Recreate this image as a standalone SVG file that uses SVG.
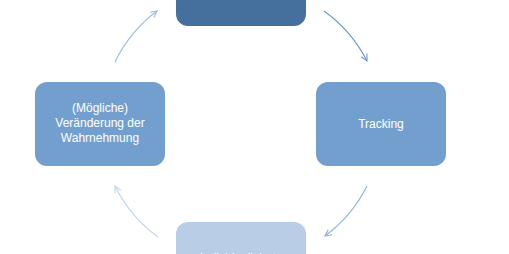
<svg xmlns="http://www.w3.org/2000/svg" width="509" height="254" viewBox="0 0 509 254">
<defs>
<style>
.box{stroke:none}
.t{font-family:"Liberation Sans","Open Sans",sans-serif;font-size:12px;fill:#ffffff;text-anchor:middle}
.c{fill:none;stroke-width:1.2}
</style>
<marker id="a1" viewBox="0 0 10 10" refX="9" refY="5" markerWidth="8" markerHeight="8" markerUnits="userSpaceOnUse" orient="auto"><path d="M1,1 L9,5 L1,9" fill="none" stroke="#9dbde6" stroke-width="1.4"/></marker>
<marker id="a2" viewBox="0 0 10 10" refX="9" refY="5" markerWidth="8" markerHeight="8" markerUnits="userSpaceOnUse" orient="auto"><path d="M1,1 L9,5 L1,9" fill="none" stroke="#6c9bd2" stroke-width="1.4"/></marker>
<marker id="a3" viewBox="0 0 10 10" refX="9" refY="5" markerWidth="8" markerHeight="8" markerUnits="userSpaceOnUse" orient="auto"><path d="M1,1 L9,5 L1,9" fill="none" stroke="#8fb3e2" stroke-width="1.4"/></marker>
<marker id="a4" viewBox="0 0 10 10" refX="9" refY="5" markerWidth="8" markerHeight="8" markerUnits="userSpaceOnUse" orient="auto"><path d="M1,1 L9,5 L1,9" fill="none" stroke="#c3d5ed" stroke-width="1.4"/></marker>
</defs>
<rect width="509" height="254" fill="#ffffff"/>
<g id="connectors">
<path class="c" d="M115,62 A140,140 0 0 1 157,11" stroke="#9dbde6" marker-end="url(#a1)"/>
<path class="c" d="M324,11 A140,140 0 0 1 367,61" stroke="#6c9bd2" marker-end="url(#a2)"/>
<path class="c" d="M367,186 A140,140 0 0 1 325,236" stroke="#8fb3e2" marker-end="url(#a3)"/>
<path class="c" d="M158,237 A140,140 0 0 1 115,186" stroke="#c3d5ed" marker-end="url(#a4)"/>
</g>
<g id="node-top">
<rect class="box" x="176" y="-58" width="130" height="84" rx="12" fill="#45709e"/>
</g>
<g id="node-right">
<rect class="box" x="316" y="82" width="130" height="84" rx="12" fill="#739fcf"/>
<text class="t" x="381" y="128">Tracking</text>
</g>
<g id="node-bottom">
<rect class="box" x="176" y="222" width="130" height="84" rx="12" fill="#b9cde6"/>
<text class="t" x="241" y="262">Individualisierte</text>
</g>
<g id="node-left">
<rect class="box" x="35" y="82" width="130" height="84" rx="12" fill="#739fcf"/>
<text class="t" x="100" y="112">(Mögliche)</text>
<text class="t" x="100" y="127">Veränderung der</text>
<text class="t" x="100" y="142">Wahrnehmung</text>
</g>
</svg>
